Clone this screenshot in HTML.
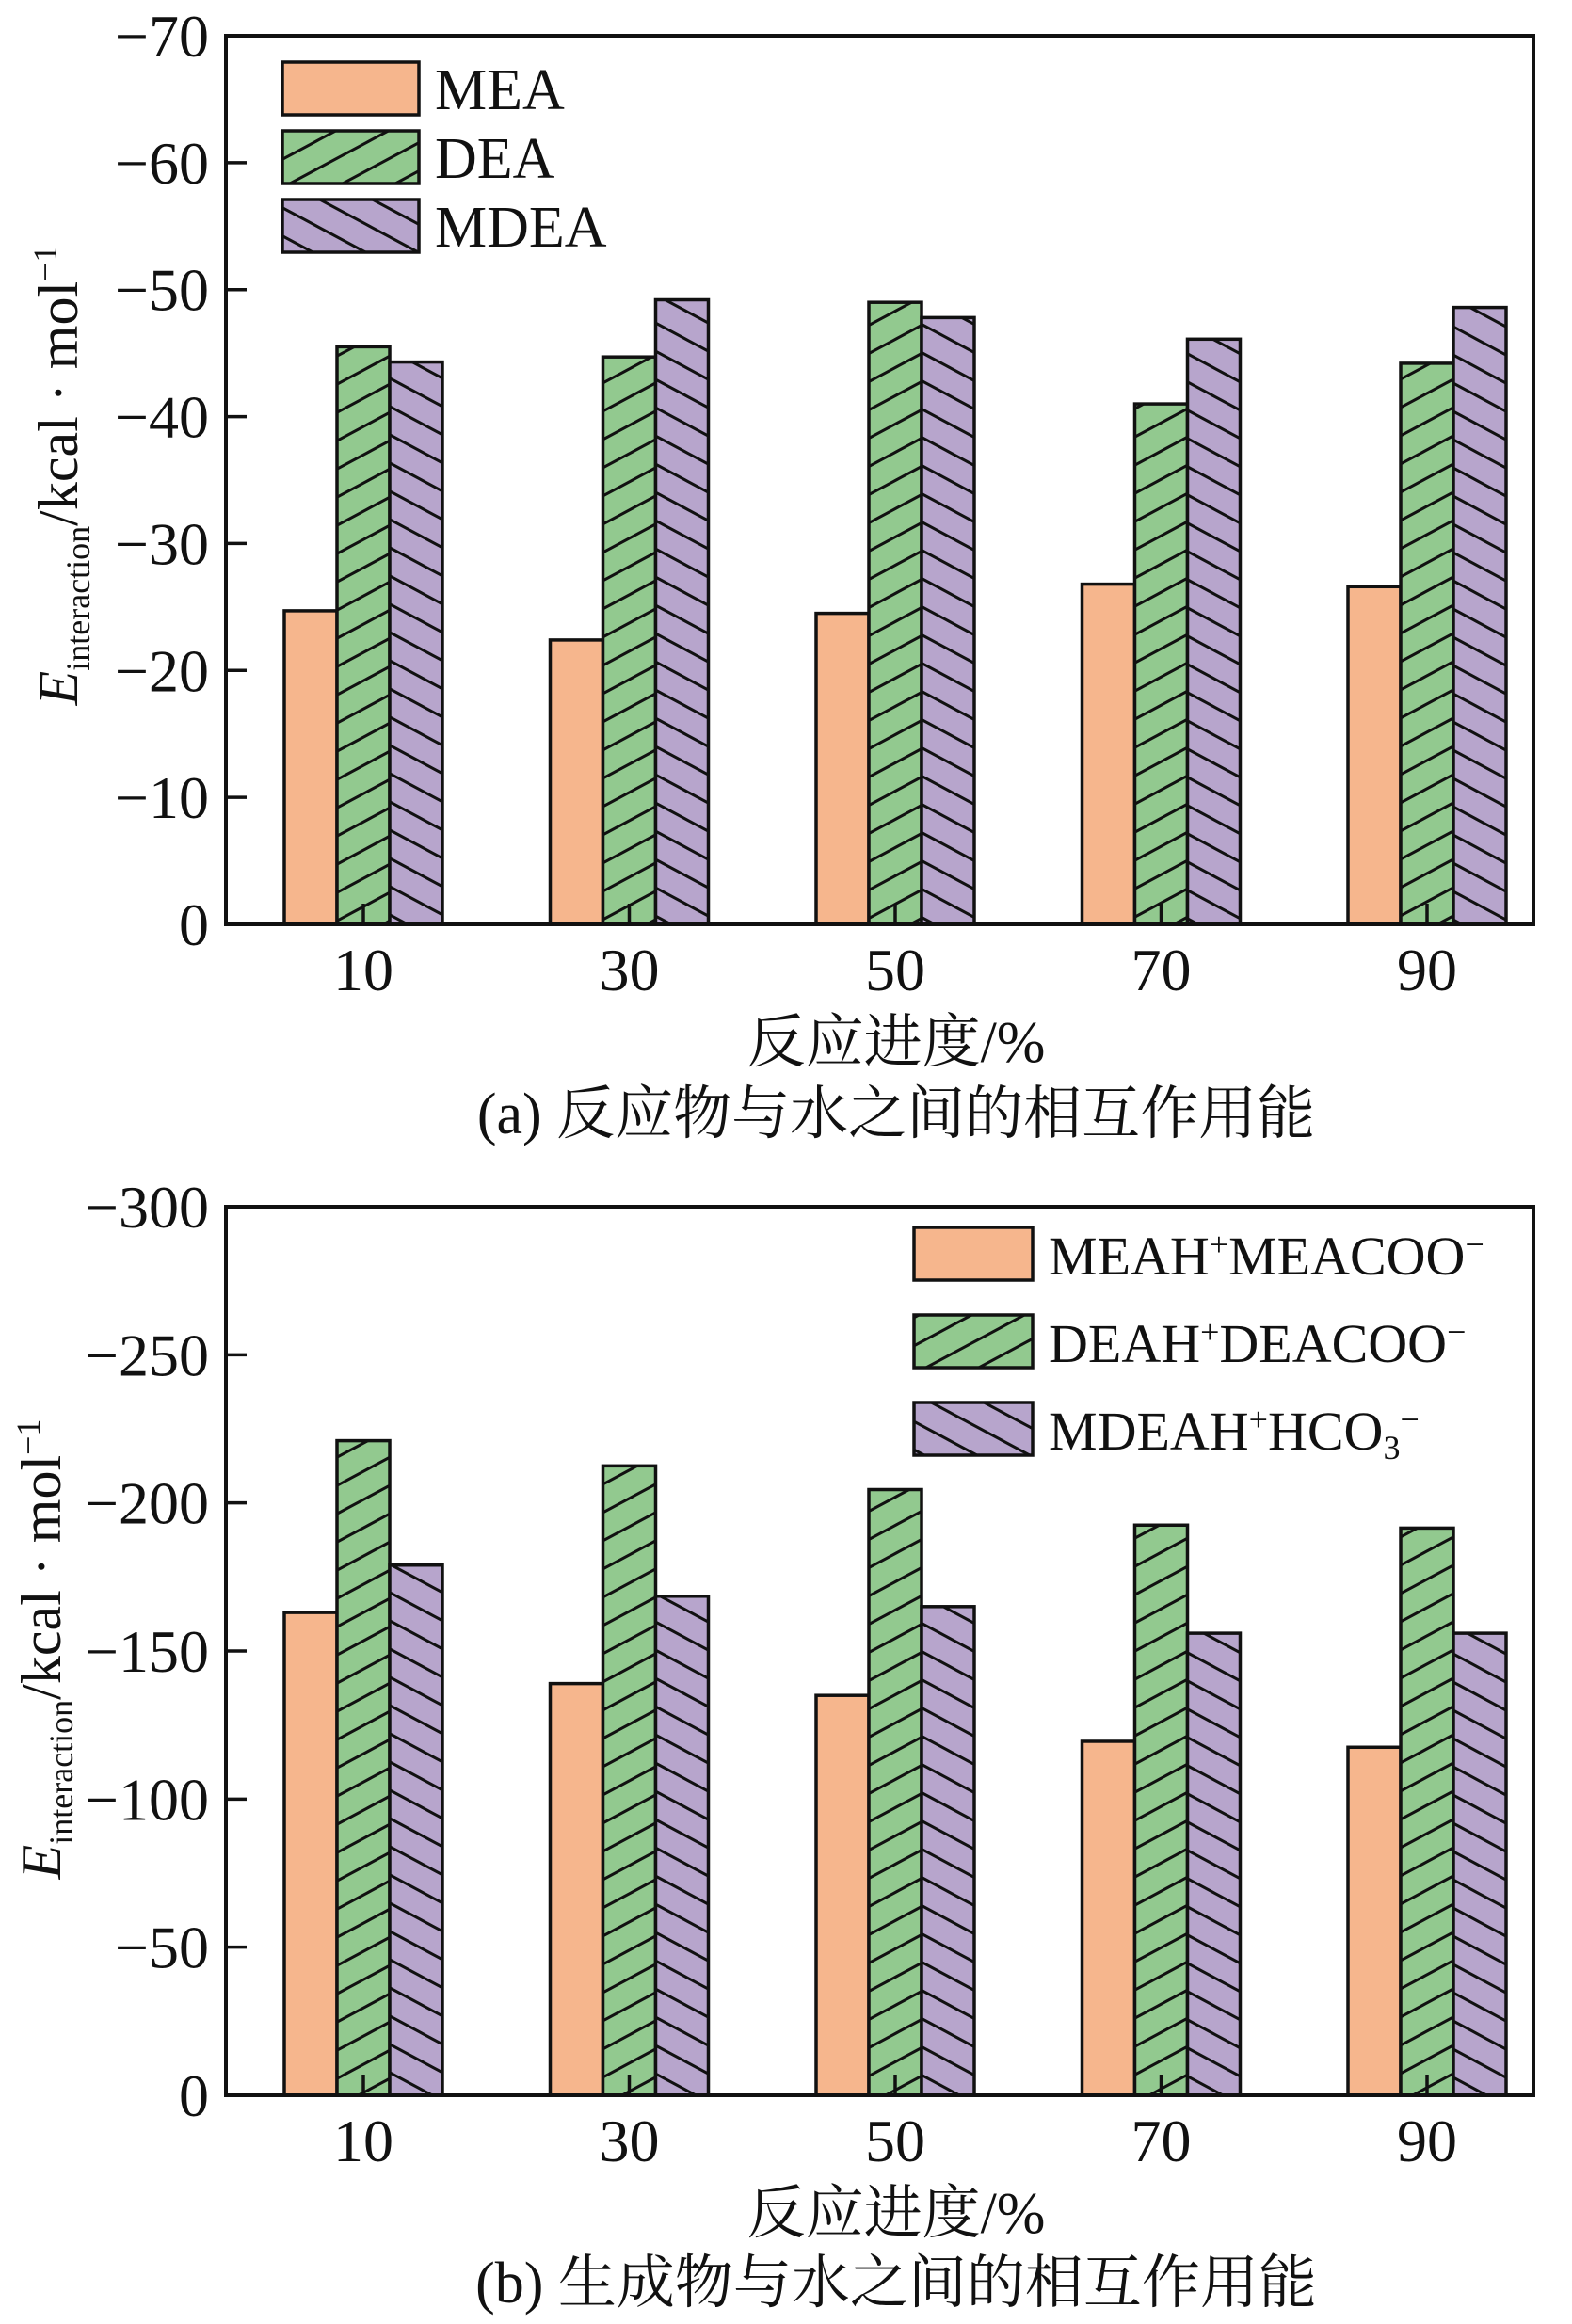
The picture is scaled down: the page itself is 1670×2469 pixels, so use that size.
<!DOCTYPE html>
<html>
<head>
<meta charset="utf-8">
<style>
html,body{margin:0;padding:0;background:#fff;}
svg{display:block;}
text{font-family:"Liberation Serif","Noto Serif CJK SC","Noto Sans CJK SC",serif;fill:#111;}
</style>
</head>
<body>
<svg id="chart" width="1670" height="2469" viewBox="0 0 1670 2469" xmlns="http://www.w3.org/2000/svg">
<defs>
<pattern id="hatchF" patternUnits="userSpaceOnUse" width="56" height="30">
<rect width="56" height="30" fill="#92c98f"/>
<line x1="-6" y1="33.2" x2="62" y2="-3.2" stroke="#111" stroke-width="3"/>
<line x1="-62" y1="33.2" x2="6" y2="-3.2" stroke="#111" stroke-width="3"/>
<line x1="50" y1="33.2" x2="118" y2="-3.2" stroke="#111" stroke-width="3"/>
</pattern>
<pattern id="hatchB" patternUnits="userSpaceOnUse" width="56" height="30">
<rect width="56" height="30" fill="#b7a5cc"/>
<line x1="-6" y1="-3.2" x2="62" y2="33.2" stroke="#111" stroke-width="3"/>
<line x1="-62" y1="-3.2" x2="6" y2="33.2" stroke="#111" stroke-width="3"/>
<line x1="50" y1="-3.2" x2="118" y2="33.2" stroke="#111" stroke-width="3"/>
</pattern>
</defs>
<g id="panelA"></g>
<g id="panelB"></g>
</svg>
<script>
const categories = ["10","30","50","70","90"];
const aMEA = [24.7, 22.4, 24.5, 26.8, 26.6];
const aDEA = [45.5, 44.7, 49.0, 41.0, 44.2];
const aMDEA = [44.3, 49.2, 47.8, 46.1, 48.6];
const aTicks = [0,10,20,30,40,50,60,70];
const aSeriesNames = ["MEA","DEA","MDEA"];
const bMEA = [163, 139, 135, 119.5, 117.5];
const bDEA = [221, 212.5, 204.5, 192.5, 191.5];
const bMDEA = [179, 168.5, 165, 156, 156];
const bTicks = [0,50,100,150,200,250,300];

const NS = "http://www.w3.org/2000/svg";
function mk(parent, tag, attrs, txt){
  const e = document.createElementNS(NS, tag);
  for (const k in attrs) e.setAttribute(k, attrs[k]);
  if (txt !== undefined) e.textContent = txt;
  parent.appendChild(e);
  return e;
}
const fills = ["#f6b68d","url(#hatchF)","url(#hatchB)"];

function drawPanel(g, cfg){
  const L=240, R=1629, T=cfg.top, B=cfg.bottom, maxV=cfg.max;
  const y = v => B - v/maxV*(B-T);
  const x = i => 386 + i*282.5;
  const bw = 56;
  const series = cfg.series;
  for (let s=0; s<3; s++){
    for (let i=0; i<categories.length; i++){
      const v = series[s][i];
      const r = mk(g,"rect",{x:x(i)+(s-1.5)*bw, y:y(v), width:bw, height:B-y(v), fill:fills[s], stroke:"#111", "stroke-width":3.5});
      
      
    }
  }
  const fr = mk(g,"rect",{x:L,y:T,width:R-L,height:B-T,fill:"none",stroke:"#111","stroke-width":4});
  
  
  cfg.ticks.forEach(t=>{
    const yy = y(t);
    const tl = mk(g,"line",{x1:L,y1:yy,x2:L+22,y2:yy,stroke:"#111","stroke-width":3.5});
    
    
    const tx = mk(g,"text",{x:222,y:yy+22,"text-anchor":"end","font-size":64}, t===0?"0":"\u2212"+t);
    
    
  });
  categories.forEach((c,i)=>{
    const tl = mk(g,"line",{x1:x(i),y1:B,x2:x(i),y2:B-22,stroke:"#111","stroke-width":3.5});
    
    
    const tx = mk(g,"text",{x:x(i),y:B+70,"text-anchor":"middle","font-size":64}, c);
    
    
  });
  const xt = mk(g,"text",{x:952,y:cfg.xlabelY,"text-anchor":"middle","font-size":62}, "反应进度/%");
  
  
  const cap = mk(g,"text",{x:952,y:cfg.capY,"text-anchor":"middle","font-size":62}, cfg.caption);
  
  
  const yt = mk(g,"text",{transform:"translate("+cfg.ytX+","+cfg.ytY+") rotate(-90)","text-anchor":"middle","font-size":60});
  
  
  mk(yt,"tspan",{"font-style":"italic"},"E");
  mk(yt,"tspan",{"font-size":36,dy:13},"interaction");
  mk(yt,"tspan",{dy:-13},"/kcal · mol");
  mk(yt,"tspan",{"font-size":36,dy:-22},"−1");
  cfg.legend.forEach((lg,s)=>{
    const lr = mk(g,"rect",{x:cfg.legX,y:lg.y,width:cfg.legW,height:56,fill:fills[s],stroke:"#111","stroke-width":3.5});
    
    
    const lt = mk(g,"text",{x:cfg.legX+cfg.legW+17,y:lg.y+50,"font-size":lg.fs||62});
    
    
    lg.parts.forEach(p=>{
      if (typeof p === "string") mk(lt,"tspan",{},p);
      else {
        const a = {dy:p.dy};
        if (p.fs) a["font-size"]=p.fs;
        mk(lt,"tspan",a,p.t);
      }
    });
  });
}

drawPanel(document.getElementById("panelA"),{
  top:38,bottom:982,max:70,series:[aMEA,aDEA,aMDEA],keys:["mea","dea","mdea"],ticks:aTicks,
  xlabelY:1128,capY:1204,caption:"(a) 反应物与水之间的相互作用能",ytX:82,ytY:505,
  legX:300,legW:145,
  legend:[{y:66,parts:[aSeriesNames[0]]},{y:139,parts:[aSeriesNames[1]]},{y:212,parts:[aSeriesNames[2]]}]
});
drawPanel(document.getElementById("panelB"),{
  top:1282,bottom:2226,max:300,series:[bMEA,bDEA,bMDEA],keys:["meah-meacoo","deah-deacoo","mdeah-hco3"],ticks:bTicks,
  xlabelY:2372,capY:2446,caption:"(b) 生成物与水之间的相互作用能",ytX:64,ytY:1752,
  legX:971,legW:126,
  legend:[
    {y:1304,fs:58,parts:["MEAH",{t:"+",dy:-20,fs:36},{t:"MEACOO",dy:20,fs:58},{t:"−",dy:-20,fs:36}]},
    {y:1397,fs:58,parts:["DEAH",{t:"+",dy:-20,fs:36},{t:"DEACOO",dy:20,fs:58},{t:"−",dy:-20,fs:36}]},
    {y:1490,fs:58,parts:["MDEAH",{t:"+",dy:-20,fs:36},{t:"HCO",dy:20,fs:58},{t:"3",dy:10,fs:36},{t:"−",dy:-30,fs:36}]}
  ]
});
</script>
</body>
</html>
